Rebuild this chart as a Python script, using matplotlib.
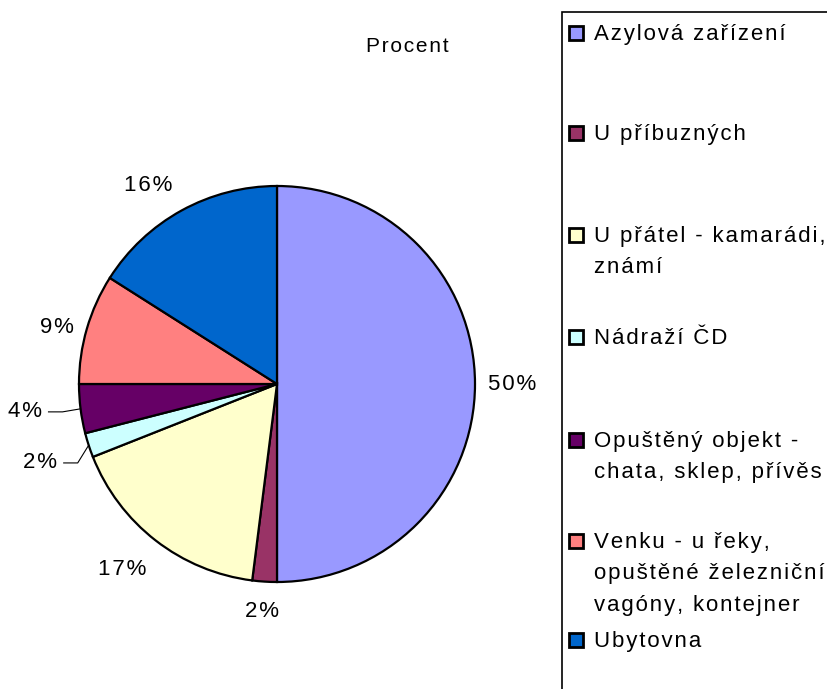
import numpy as np
import matplotlib
matplotlib.use("Agg")
import matplotlib.pyplot as plt
from matplotlib.patches import Rectangle

plt.rcParams['font.family'] = ['Liberation Sans', 'DejaVu Sans']

# data
categories = [
    "Azylová zařízení",
    "U příbuzných",
    "U přátel - kamarádi,\nznámí",
    "Nádraží ČD",
    "Opuštěný objekt -\nchata, sklep, přívěs",
    "Venku - u řeky,\nopuštěné železniční\nvagóny, kontejner",
    "Ubytovna",
]
values = [50, 2, 17, 2, 4, 9, 16]
colors = ["#9999FF", "#993366", "#FFFFCC", "#CCFFFF", "#660066", "#FF8080", "#0066CC"]

# layout: label distance / angle shift per slice, leader line for small ones
label_dist = [1.187, 1.152, 1.222, 1.263, 1.283, 1.146, 1.197]
label_shift = [0, -0.2, -2.0, 0.4, -0.9, 1.9, 4.2]
leader = [False, False, False, True, True, False, False]
legend_y = [33, 133, 235, 337, 440, 541, 640]   # pixel rows of the first text line


def spaced(s):
    # Excel-style letter spacing
    return "\u200a".join(s).replace("\u200a\n\u200a", "\n")


W, H = 828, 689
fig = plt.figure(figsize=(W / 100, H / 100), dpi=100)

# pie axes: centre (277, 384) px, radius ~198 px
cx, cy, R = 277, 384, 198
half = 200
ax = fig.add_axes([(cx - half) / W, (H - cy - half) / H, 2 * half / W, 2 * half / H])
r = R / half

wedges, _ = ax.pie(values, colors=colors, startangle=90, counterclock=False,
                   radius=r, wedgeprops=dict(edgecolor="black", linewidth=1.6))
ax.set_xlim(-1, 1)
ax.set_ylim(-1, 1)
ax.axis("off")

total = sum(values)
ang = 90.0
for v, d, sh, ld in zip(values, label_dist, label_shift, leader):
    span = 360.0 * v / total
    mid = ang - span / 2
    ang -= span
    a = np.deg2rad(mid + sh)
    lx, ly = r * d * np.cos(a), r * d * np.sin(a)
    ax.text(lx, ly, spaced(f"{v}%"), ha="center", va="center", fontsize=16,
            color="black", clip_on=False)
    if ld:
        m = np.deg2rad(mid)
        ex, ey = r * np.cos(m), r * np.sin(m)
        sx = lx + 0.12
        ax.plot([sx, sx + 0.07, ex], [ly, ly, ey], color="black", lw=0.8,
                clip_on=False)

fig.text(407 / W, 1 - 47 / H, spaced("Procent"), ha="center", va="center",
         fontsize=15)

# legend box
fig.patches.append(Rectangle((562 / W, -0.02), 0.5, 1 - 12 / H + 0.02,
                             transform=fig.transFigure, fill=False,
                             edgecolor="black", linewidth=1.2))
sq = 14
for lab, col, y in zip(categories, colors, legend_y):
    fig.patches.append(Rectangle((569 / W, 1 - (y + sq / 2) / H), sq / W, sq / H,
                                 transform=fig.transFigure, facecolor=col,
                                 edgecolor="black", linewidth=2))
    fig.text(594 / W, 1 - (y - 9) / H, spaced(lab), ha="left", va="top",
             fontsize=16, linespacing=1.65)

fig.savefig("out.png", dpi=100)
